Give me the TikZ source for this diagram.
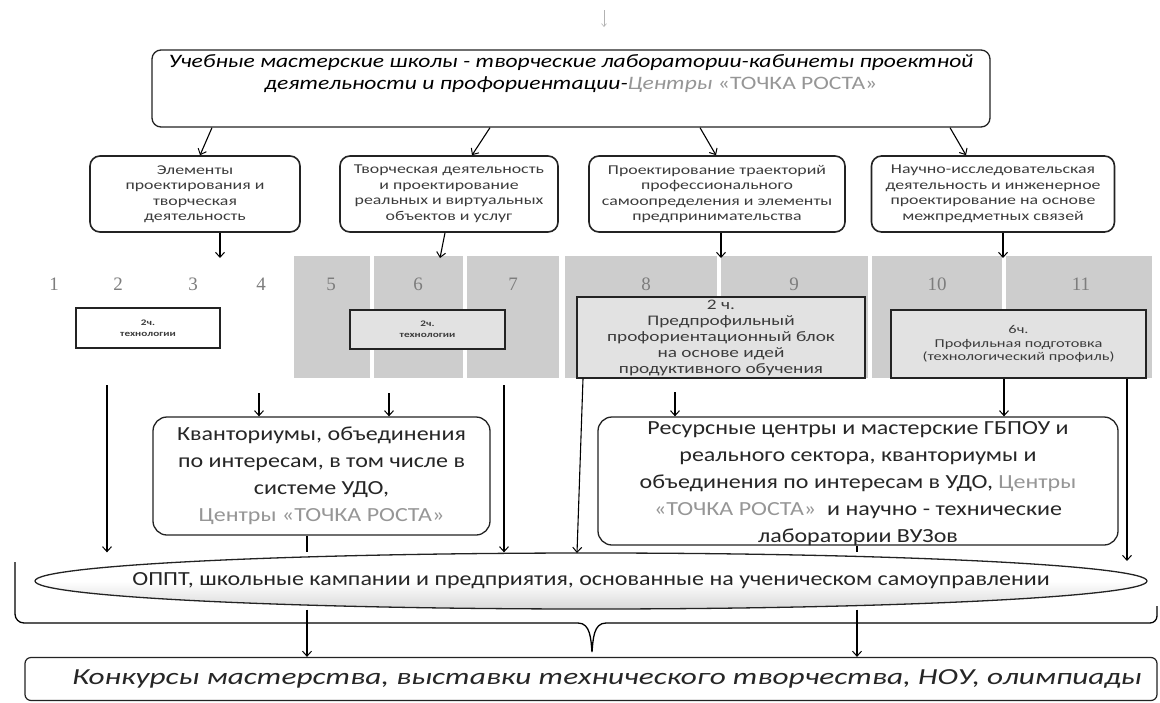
\documentclass[tikz,border=0pt]{standalone}
\usepackage{fontspec}
\setmainfont{Carlito}
\newfontfamily\numfont{Liberation Serif}
\newfontfamily\wideA[FakeStretch=1.2]{Carlito}
\newfontfamily\wideT[FakeStretch=1.24]{Carlito}
\newfontfamily\wideB[FakeStretch=1.32]{Carlito}
\newfontfamily\wideC[FakeStretch=1.36]{Carlito}
\usetikzlibrary{arrows.meta,shapes.geometric,calc}
\definecolor{band}{RGB}{205,205,205}
\definecolor{bandbox}{RGB}{226,226,226}
\definecolor{numgray}{RGB}{125,125,125}
\definecolor{fade}{RGB}{150,150,150}
\definecolor{smalltxt}{RGB}{60,60,60}
\definecolor{edge}{RGB}{35,35,35}
\tikzset{
  arr/.style={draw=black, line width=1.1pt, -{Straight Barb[length=5pt,width=9pt,line width=1pt]}},
  link/.style={draw=black, line width=1.1pt},
  topbox/.style={draw=edge, line width=1.3pt, rounded corners=9pt, fill=white, inner sep=0pt},
  toptext/.style={align=center, inner sep=0pt, font=\wideT\itshape\fontsize{19}{22}\selectfont},
  midbox/.style={draw=edge, line width=1.6pt, rounded corners=10pt, fill=white, inner sep=0pt, align=center, text=smalltxt, font=\wideB\fontsize{13.5}{15.5}\selectfont},
  num/.style={inner sep=0pt, text=numgray, font=\numfont\fontsize{19}{22}\selectfont},
  tinybox/.style={draw=edge, line width=1.2pt, inner sep=0pt, align=center, text=smalltxt, font=\wideB\bfseries\fontsize{8.5}{11}\selectfont},
  profbox/.style={draw=edge, line width=1.4pt, fill=bandbox, inner sep=0pt, align=center, text=smalltxt, font=\wideB\fontsize{14.6}{16}\selectfont},
  bigbox/.style={draw=edge, line width=1.3pt, rounded corners=14pt, fill=white, inner sep=0pt, align=center, text=black!85, font=\wideA\fontsize{20}{27}\selectfont},
  ellshape/.style={ellipse, draw=edge, line width=1.3pt, top color=white, bottom color=gray!30, middle color=white, inner sep=0pt},
  elltext/.style={inner sep=0pt, align=center, text=black!85, font=\wideA\fontsize{20}{24}\selectfont},
  endbox/.style={draw=edge, line width=1.2pt, rounded corners=6pt, fill=white, inner sep=0pt},
  endtext/.style={inner sep=0pt, text=black!85, font=\wideC\itshape\fontsize{23}{26}\selectfont}
}
\begin{document}
\begin{tikzpicture}[x=1pt,y=-1pt]
\useasboundingbox (0,0) rectangle (1160,702);
\fill[white] (0,0) rectangle (1160,702);

% faint arrow at the top
\coordinate (t1) at (604,10);
\coordinate (t2) at (604,27);
\draw[draw=gray!60, line width=0.6pt, -{Straight Barb[length=3pt,width=5pt]}] (t1) -- (t2);

% top box
\node[topbox, minimum width=838pt, minimum height=77pt] (top) at (571,88.5) {};
\node[toptext] (toptitle) at (571,74) {Учебные мастерские школы - творческие лаборатории-кабинеты проектной\\
деятельности и профориентации-{\color{fade}Центры \upshape«ТОЧКА РОСТА»}};

% second row
\node[midbox, minimum width=210pt, minimum height=76pt] (b1) at (195,194) {Элементы\\проектирования и\\творческая\\деятельность};
\node[midbox, minimum width=218pt, minimum height=76pt] (b2) at (449,194) {Творческая деятельность\\и проектирование\\реальных и виртуальных\\объектов и услуг};
\node[midbox, minimum width=256pt, minimum height=76pt] (b3) at (717,194) {Проектирование траекторий\\профессионального\\самоопределения и элементы\\предпринимательства};
\node[midbox, minimum width=243pt, minimum height=76pt] (b4) at (993,194) {Научно-исследовательская\\деятельность и инженерное\\проектирование на основе\\межпредметных связей};

\coordinate (u1) at (212,127); \coordinate (v1) at (200,156);
\coordinate (u2) at (490,127); \coordinate (v2) at (472,156);
\coordinate (u3) at (700,127); \coordinate (v3) at (716,156);
\coordinate (u4) at (950,127); \coordinate (v4) at (966,156);
\draw[arr] (top.south -| u1) -- (b1.north -| v1);
\draw[arr] (top.south -| u2) -- (b2.north -| v2);
\draw[arr] (top.south -| u3) -- (b3.north -| v3);
\draw[arr] (top.south -| u4) -- (b4.north -| v4);

% grey band of school years
\fill[band] (294,256) rectangle (370,378);
\fill[band] (374,256) rectangle (463,378);
\fill[band] (467,256) rectangle (559,378);
\fill[band] (565,256) rectangle (717,378);
\fill[band] (721,256) rectangle (868,378);
\fill[band] (872,256) rectangle (1002,378);
\fill[band] (1006,256) rectangle (1152,378);

\node[num] (n1) at (54,284) {1};
\node[num] (n2) at (118,284) {2};
\node[num] (n3) at (193,284) {3};
\node[num] (n4) at (261,284) {4};
\node[num] (n5) at (331,284) {5};
\node[num] (n6) at (418,284) {6};
\node[num] (n7) at (513,284) {7};
\node[num] (n8) at (646,284) {8};
\node[num] (n9) at (794,284) {9};
\node[num] (n10) at (937,284) {10};
\node[num] (n11) at (1081,284) {11};

% arrows from second row into the band
\coordinate (w1) at (220,258);
\coordinate (w2) at (440,258);
\coordinate (w3) at (721,258);
\coordinate (w4) at (1003,258);
\draw[arr] (b1.south -| w1) -- (w1);
\draw[arr] ($(b2.south -| w2)+(5,0)$) -- (w2);
\draw[arr] (b3.south -| w3) -- (w3);
\draw[arr] (b4.south -| w4) -- (w4);

% hours boxes
\node[tinybox, fill=white, minimum width=144pt, minimum height=40pt] (s1) at (148,328) {2ч.\\технологии};
\node[tinybox, fill=bandbox, minimum width=155pt, minimum height=39pt] (s2) at (427.5,329.5) {2ч.\\технологии};
\node[profbox, minimum width=288pt, minimum height=81pt] (s3) at (721,337.5) {2 ч.\\Предпрофильный\\профориентационный блок\\на основе идей\\продуктивного обучения};
\node[profbox, font=\wideC\fontsize{12}{13.5}\selectfont, minimum width=255pt, minimum height=68pt] (s4) at (1018.5,344) {6ч.\\Профильная подготовка\\(технологический профиль)};

% lower boxes
\node[bigbox, minimum width=337pt, minimum height=118pt] (kv) at (321.5,476) {Кванториумы, объединения\\по интересам, в том числе в\\системе УДО,\\{\color{fade}Центры «ТОЧКА РОСТА»}};
\node[bigbox, minimum width=520pt, minimum height=128pt] (res) at (858,481) {};
\node[inner sep=0pt, align=center, text=black!85, font=\wideA\fontsize{20}{27}\selectfont] (reslabel) at (858,484) {Ресурсные центры и мастерские ГБПОУ и\\реального сектора, кванториумы и\\объединения по интересам в УДО, {\color{fade}Центры}\\{\color{fade}«ТОЧКА РОСТА»}\ \ и научно - технические\\лаборатории ВУЗов};

\node[ellshape, minimum width=1112pt, minimum height=56pt] (ell) at (591,581) {};
\node[elltext] (elllabel) at (ell.center) {ОППТ, школьные кампании и предприятия, основанные на ученическом самоуправлении};

\node[endbox, minimum width=1132pt, minimum height=43pt] (bot) at (591,679) {};
\node[endtext] (botlabel) at (607,679) {Конкурсы мастерства, выставки технического творчества, НОУ, олимпиады};

% connectors below the band
\coordinate (p1) at (107,385);
\coordinate (p2) at (259,393);
\coordinate (p3) at (389,393);
\coordinate (p4) at (504,385);
\coordinate (p5) at (583,378);
\coordinate (q5) at (577,553);
\coordinate (p6) at (675,392);
\coordinate (p7) at (1004,378);
\coordinate (p8) at (1127,378);
\coordinate (q8) at (1127,561);

\draw[arr] (p1) -- (ell.north -| p1);
\draw[arr] (p2) -- (kv.north -| p2);
\draw[arr] (p3) -- (kv.north -| p3);
\draw[arr] (p4) -- (ell.north -| p4);
\draw[arr] (s3.south -| p5) -- (q5);
\draw[arr] (p6) -- (res.north -| p6);
\draw[arr] (s4.south -| p7) -- (res.north -| p7);
\draw[arr] (s4.south -| p8) -- (q8);

% through the ellipse to the bottom box
\coordinate (k1) at (307,0);
\coordinate (k2) at (857,0);
\draw[link] (kv.south -| k1) -- (ell.north -| k1);
\draw[link] (res.south -| k2) -- (ell.north -| k2);
\draw[arr] (ell.south -| k1) -- (bot.north -| k1);
\draw[arr] (ell.south -| k2) -- (bot.north -| k2);

% brace under the ellipse
\draw[link, line width=1.3pt] (15,562) -- (15,614) to[out=-90,in=180] (24,623) -- (578,623)
  to[out=0,in=95] (592,652) to[out=85,in=180] (606,623) -- (1150,623)
  to[out=0,in=-90] (1157,616) -- (1157,606);
\end{tikzpicture}
\end{document}
